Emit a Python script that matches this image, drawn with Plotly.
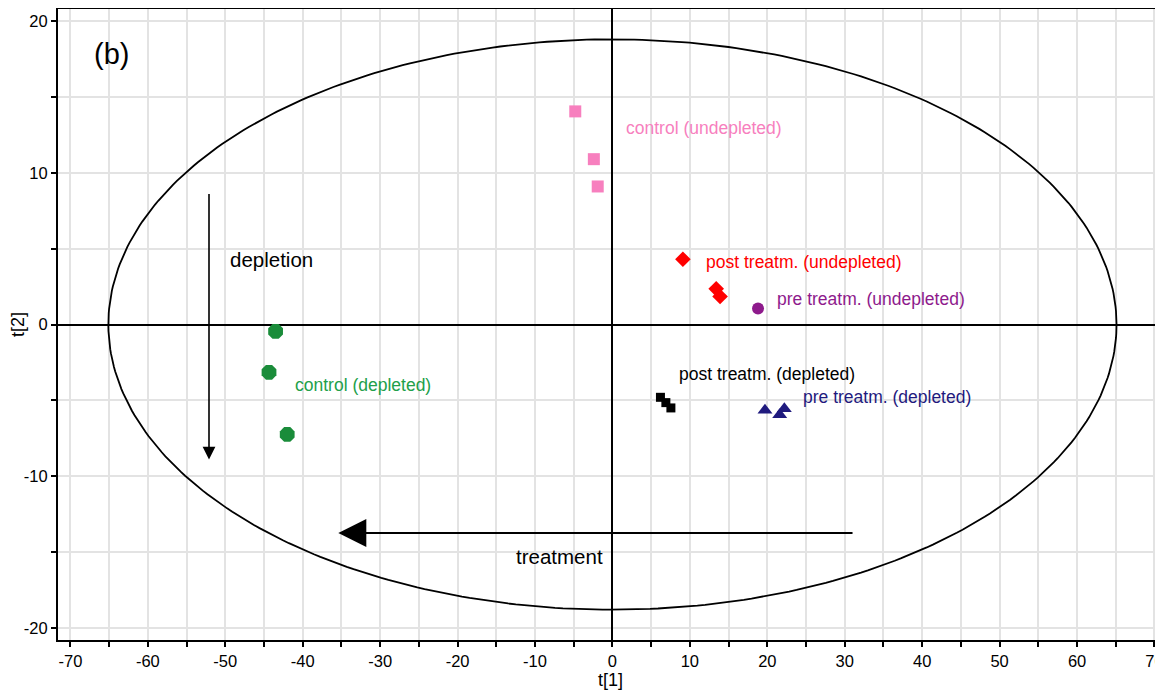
import numpy as np
import plotly.graph_objects as go

# ---- data ----
ctrl_undep_x = [-4.8, -2.4, -1.9]
ctrl_undep_y = [14.05, 10.9, 9.1]
post_undep_x = [9.1, 13.4, 13.9]
post_undep_y = [4.3, 2.35, 1.85]
pre_undep_x = [18.8]
pre_undep_y = [1.05]
post_dep_x = [6.2, 6.9, 7.55]
post_dep_y = [-4.8, -5.15, -5.5]
pre_dep_x = [19.7, 22.2, 21.6]
pre_dep_y = [-5.65, -5.55, -5.95]
ctrl_dep_x = [-43.5, -44.35, -42.0]
ctrl_dep_y = [-0.45, -3.15, -7.25]

ellipse_a = 65.1   # semi-axis t[1]
ellipse_b = 18.8   # semi-axis t[2]

x_ticks = [-70, -60, -50, -40, -30, -20, -10, 0, 10, 20, 30, 40, 50, 60, 70]
y_ticks = [-20, -10, 0, 10, 20]

FONT = "Liberation Sans, Arial, sans-serif"

fig = go.Figure()

# Hotelling ellipse
th = np.linspace(0, 2 * np.pi, 400)
fig.add_trace(go.Scatter(x=ellipse_a * np.cos(th), y=ellipse_b * np.sin(th),
                         mode="lines", line=dict(color="black", width=1.8),
                         hoverinfo="skip", showlegend=False))

def pts(x, y, sym, color, size):
    fig.add_trace(go.Scatter(x=x, y=y, mode="markers", showlegend=False,
                             marker=dict(symbol=sym, color=color, size=size,
                                         line=dict(width=0))))

pts(ctrl_undep_x, ctrl_undep_y, "square", "#F77FBE", 12)
pts(post_undep_x, post_undep_y, "diamond", "#FF0000", 12)
pts(pre_undep_x, pre_undep_y, "circle", "#8E1A8C", 12)
pts(post_dep_x, post_dep_y, "square", "#000000", 9)
pts(pre_dep_x, pre_dep_y, "triangle-up", "#1F1A7E", 13)
pts(ctrl_dep_x, ctrl_dep_y, "octagon", "#1A8C3A", 16)

def label(x, y, text, color, size=17.5):
    fig.add_annotation(x=x, y=y, xref="x", yref="y", text=text, showarrow=False,
                       xanchor="left", yanchor="middle",
                       font=dict(family=FONT, size=size, color=color))

label(1.45, 12.95, "control (undepleted)", "#F77FBE")
label(11.8, 4.15, "post treatm. (undepleted)", "#FF0000")
label(21.0, 1.7, "pre treatm. (undepleted)", "#8E1A8C")
label(8.4, -3.25, "post treatm. (depleted)", "#000000")
label(24.3, -4.8, "pre treatm. (depleted)", "#1F1A7E")
label(-41.2, -4.0, "control (depleted)", "#22A04A")
label(-49.6, 4.3, "depletion", "#000000", 20.5)
label(-12.7, -15.3, "treatment", "#000000", 20.5)
label(-67.2, 17.85, "(b)", "#000000", 29)

# arrows
fig.add_annotation(x=-52.1, y=-8.9, ax=-52.1, ay=8.7, xref="x", yref="y",
                   axref="x", ayref="y", text="", showarrow=True,
                   arrowhead=2, arrowsize=1.6, arrowwidth=1.6, arrowcolor="black")
fig.add_annotation(x=-35.4, y=-13.75, ax=31.2, ay=-13.75, xref="x", yref="y",
                   axref="x", ayref="y", text="", showarrow=True,
                   arrowhead=2, arrowsize=2.8, arrowwidth=2, arrowcolor="black")

# the page body has an 8px margin, so the figure is sized/offset to compensate
fig.update_layout(
    width=1155, height=682,
    margin=dict(l=50, r=0, t=1, b=50),
    paper_bgcolor="white", plot_bgcolor="white",
    font=dict(family=FONT, size=16.5, color="black"),
    showlegend=False,
)
fig.update_xaxes(range=[-71.6, 71.1], tickvals=x_ticks, ticktext=[str(v) for v in x_ticks],
                 automargin=False, ticklabeloverflow="allow",
                 ticks="outside", ticklen=5, tickwidth=1.5, tickcolor="black",
                 showline=True, linecolor="black", linewidth=2, mirror=True,
                 showgrid=True, gridcolor="#E3E3E3", gridwidth=1.5,
                 zeroline=True, zerolinecolor="black", zerolinewidth=1.6,
                 minor=dict(dtick=5, tick0=0, ticks="outside", ticklen=5, tickwidth=1.5,
                            tickcolor="black", showgrid=True, gridcolor="#E3E3E3", gridwidth=1.5),
                 title=dict(text="t[1]", standoff=2, font=dict(size=18)),
                 tickfont=dict(size=16.5))
fig.update_yaxes(range=[-20.8, 20.8], tickvals=y_ticks, ticktext=[str(v) for v in y_ticks],
                 automargin=False,
                 ticks="outside", ticklen=5, tickwidth=1.5, tickcolor="black",
                 showline=True, linecolor="black", linewidth=2, mirror=False,
                 showgrid=True, gridcolor="#E3E3E3", gridwidth=1.5,
                 zeroline=True, zerolinecolor="black", zerolinewidth=1.6,
                 minor=dict(dtick=5, tick0=0, ticks="outside", ticklen=5, tickwidth=1.5,
                            tickcolor="black", showgrid=True, gridcolor="#E3E3E3", gridwidth=1.5),
                 title=dict(text="t[2]", standoff=2, font=dict(size=18)),
                 tickfont=dict(size=16.5))

fig.write_html("out.html")
